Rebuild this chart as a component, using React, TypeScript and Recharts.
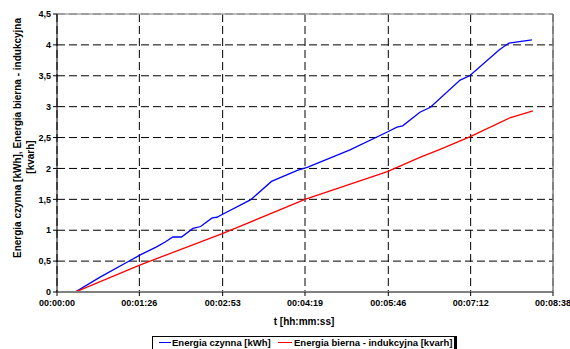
import React from "react";
import {
  LineChart,
  Line,
  XAxis,
  YAxis,
  CartesianGrid,
  ReferenceLine,
  Legend,
} from "recharts";

// Time in seconds since start
const timeTicks = [0, 86, 173, 259, 346, 432, 518];
const timeTickLabels = [
  "00:00:00",
  "00:01:26",
  "00:02:53",
  "00:04:19",
  "00:05:46",
  "00:07:12",
  "00:08:38",
];
const energyTicks = [0, 0.5, 1, 1.5, 2, 2.5, 3, 3.5, 4, 4.5];
const energyTickLabels = ["0", "0,5", "1", "1,5", "2", "2,5", "3", "3,5", "4", "4,5"];

// Energia czynna [kWh]
const activeTime = [0, 19, 45, 74, 87, 104, 113, 121, 130, 142, 150, 162, 167, 172, 202, 224, 251, 262, 306, 345, 355, 361, 379, 390, 421, 431, 462, 472, 496];
const activeValue = [0, 0, 0.24, 0.49, 0.6, 0.73, 0.81, 0.89, 0.89, 1.03, 1.06, 1.2, 1.21, 1.25, 1.49, 1.79, 1.97, 2.02, 2.3, 2.59, 2.67, 2.69, 2.91, 2.99, 3.43, 3.5, 3.92, 4.03, 4.08];

// Energia bierna - indukcyjna [kvarh]
const reactiveTime = [0, 19, 87, 172, 259, 345, 379, 400, 431, 473, 497];
const reactiveValue = [0, 0, 0.44, 0.94, 1.5, 1.95, 2.18, 2.31, 2.51, 2.82, 2.93];

const activeName = "Energia czynna [kWh]";
const reactiveName = "Energia bierna - indukcyjna [kvarh]";
const xTitle = "t [hh:mm:ss]";
const yTitleLine1 = "Energia czynna [kWh], Energia bierna - indukcyjna";
const yTitleLine2 = "[kvarh]";

const activeData = activeTime.map((t, i) => ({ t, v: activeValue[i] }));
const reactiveData = reactiveTime.map((t, i) => ({ t, v: reactiveValue[i] }));

const FONT = "'Liberation Sans', Arial, sans-serif";

const YTitle = () => (
  <g fontFamily={FONT} fontWeight="bold" fontSize={10} fill="#000">
    <text
      x={17}
      y={138}
      transform="rotate(-90 17 138)"
      textAnchor="middle"
      dominantBaseline="central"
    >
      {yTitleLine1}
    </text>
    <text
      x={30}
      y={157}
      transform="rotate(-90 30 157)"
      textAnchor="middle"
      dominantBaseline="central"
    >
      {yTitleLine2}
    </text>
  </g>
);

const XTitle = () => (
  <text
    x={304}
    y={321}
    textAnchor="middle"
    dominantBaseline="central"
    fontFamily={FONT}
    fontWeight="bold"
    fontSize={10}
    fill="#000"
  >
    {xTitle}
  </text>
);

const textStyle: React.CSSProperties = {
  position: "absolute",
  top: 0,
  lineHeight: "11px",
  fontFamily: FONT,
  fontWeight: "bold",
  fontSize: 9.5,
  color: "#000",
  whiteSpace: "nowrap",
};

const LegendBox = () => (
  <div
    style={{
      position: "absolute",
      left: 152,
      top: 336,
      width: 305,
      height: 20,
      borderTop: "1px solid #000",
      borderLeft: "1px solid #000",
      borderBottom: "1px solid #000",
      borderRight: "3px solid #000",
      background: "#fff",
      boxSizing: "border-box",
    }}
  >
    <span style={{ position: "absolute", left: 6, top: 5, width: 12, height: 0, borderTop: "1.5px solid #0000ff" }} />
    <span style={{ ...textStyle, left: 19 }}>{activeName}</span>
    <span style={{ position: "absolute", left: 125, top: 5, width: 14, height: 0, borderTop: "1.5px solid #ff0000" }} />
    <span style={{ ...textStyle, left: 141 }}>{reactiveName}</span>
  </div>
);

export default function App() {
  return (
    <div style={{ position: "absolute", left: 0, top: 0, width: 570, height: 349, background: "#fff", overflow: "hidden" }}>
      <LineChart
        width={570}
        height={349}
        margin={{ top: 14, right: 17, left: 0, bottom: 0 }}
        style={{ fontFamily: FONT }}
      >
        <CartesianGrid stroke="#000" strokeDasharray="8 4" strokeWidth={1} />
        <XAxis
          dataKey="t"
          type="number"
          domain={[0, 518]}
          ticks={timeTicks}
          tickFormatter={(v: number) => timeTickLabels[timeTicks.indexOf(v)] ?? ""}
          height={57}
          interval={0}
          tickSize={4}
          tickMargin={4}
          axisLine={{ stroke: "#808080", strokeWidth: 2 }}
          tickLine={{ stroke: "#000" }}
          tick={{ fontSize: 9, fontWeight: "bold", fill: "#000", fontFamily: FONT }}
          label={{ content: XTitle }}
          allowDuplicatedCategory={false}
        />
        <YAxis
          type="number"
          domain={[0, 4.5]}
          ticks={energyTicks}
          tickFormatter={(v: number) => energyTickLabels[energyTicks.indexOf(v)] ?? ""}
          width={57}
          interval={0}
          tickSize={4}
          tickMargin={2}
          axisLine={{ stroke: "#000", strokeWidth: 1 }}
          tickLine={{ stroke: "#000" }}
          tick={{ fontSize: 9, fontWeight: "bold", fill: "#000", fontFamily: FONT }}
          label={{ content: YTitle }}
        />
        <ReferenceLine y={4.5} stroke="#a8a8a8" strokeWidth={1.5} ifOverflow="extendDomain" />
        <ReferenceLine x={518} stroke="#808080" strokeWidth={1.5} />
        <Line
          data={activeData}
          dataKey="v"
          name={activeName}
          type="linear"
          stroke="#0000ff"
          strokeWidth={1.3}
          dot={false}
          isAnimationActive={false}
        />
        <Line
          data={reactiveData}
          dataKey="v"
          name={reactiveName}
          type="linear"
          stroke="#ff0000"
          strokeWidth={1.3}
          dot={false}
          isAnimationActive={false}
        />
        <Legend
          layout="horizontal"
          verticalAlign="middle"
          align="right"
          content={LegendBox}
          wrapperStyle={{ position: "absolute", left: 0, top: 0, width: 0, height: 0 }}
        />
      </LineChart>
    </div>
  );
}
